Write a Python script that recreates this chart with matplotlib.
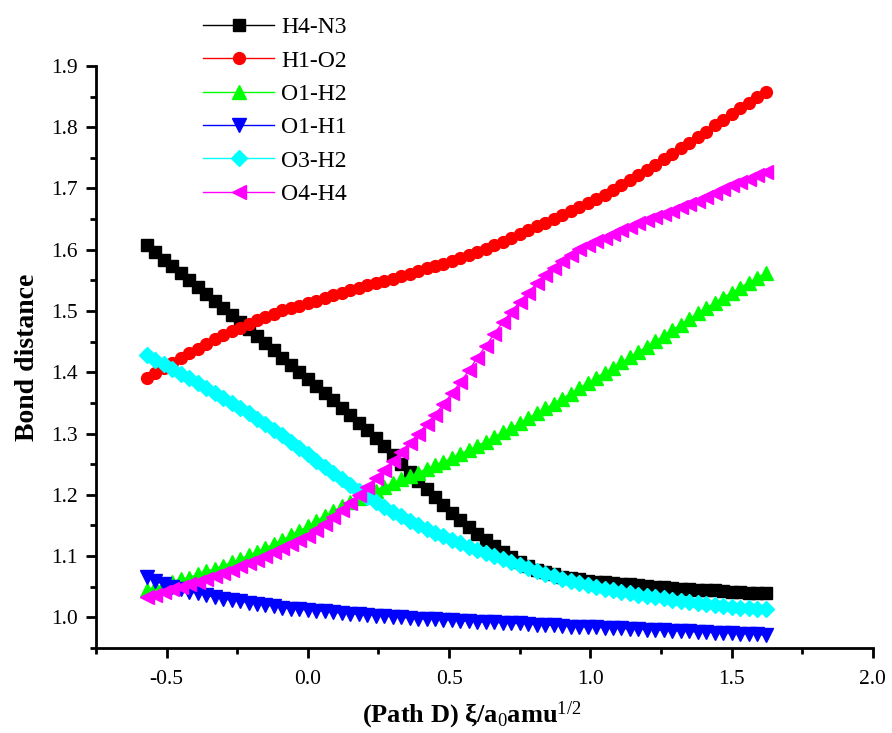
import numpy as np
import matplotlib
matplotlib.use("Agg")
import matplotlib.pyplot as plt
from matplotlib.ticker import MultipleLocator

plt.rcParams['font.family'] = ['Liberation Serif', 'DejaVu Serif']
plt.rcParams['mathtext.fontset'] = 'custom'
plt.rcParams['mathtext.rm'] = 'Liberation Serif'
plt.rcParams['mathtext.default'] = 'regular'

# reaction coordinate along path D
xi = [-0.57, -0.54, -0.51, -0.48, -0.45, -0.42, -0.39, -0.36, -0.33, -0.30,
      -0.27, -0.24, -0.21, -0.18, -0.15, -0.12, -0.09, -0.06, -0.03, 0.00,
      0.03, 0.06, 0.09, 0.12, 0.15, 0.18, 0.21, 0.24, 0.27, 0.30,
      0.33, 0.36, 0.39, 0.42, 0.45, 0.48, 0.51, 0.54, 0.57, 0.60,
      0.63, 0.66, 0.69, 0.72, 0.75, 0.78, 0.81, 0.84, 0.87, 0.90,
      0.93, 0.96, 0.99, 1.02, 1.05, 1.08, 1.11, 1.14, 1.17, 1.20,
      1.23, 1.26, 1.29, 1.32, 1.35, 1.38, 1.41, 1.44, 1.47, 1.50,
      1.53, 1.56, 1.59, 1.62]

h4_n3 = [1.607, 1.596, 1.584, 1.573, 1.562, 1.550, 1.539, 1.528, 1.516, 1.505,
         1.494, 1.482, 1.471, 1.459, 1.448, 1.436, 1.424, 1.412, 1.401, 1.389,
         1.377, 1.366, 1.354, 1.342, 1.330, 1.318, 1.305, 1.292, 1.279, 1.265,
         1.251, 1.237, 1.223, 1.209, 1.196, 1.183, 1.170, 1.159, 1.147, 1.136,
         1.126, 1.117, 1.107, 1.099, 1.091, 1.084, 1.078, 1.074, 1.070, 1.066,
         1.064, 1.062, 1.060, 1.058, 1.057, 1.056, 1.055, 1.054, 1.052, 1.051,
         1.050, 1.049, 1.048, 1.047, 1.046, 1.045, 1.045, 1.044, 1.043, 1.042,
         1.041, 1.040, 1.040, 1.039]

h1_o2 = [1.391, 1.399, 1.407, 1.415, 1.423, 1.431, 1.438, 1.446, 1.454, 1.461,
         1.467, 1.473, 1.479, 1.485, 1.490, 1.495, 1.501, 1.505, 1.509, 1.513,
         1.517, 1.521, 1.526, 1.530, 1.534, 1.538, 1.542, 1.546, 1.549, 1.553,
         1.557, 1.561, 1.566, 1.570, 1.574, 1.577, 1.581, 1.586, 1.591, 1.596,
         1.602, 1.607, 1.613, 1.619, 1.625, 1.632, 1.638, 1.644, 1.650, 1.656,
         1.663, 1.669, 1.676, 1.683, 1.690, 1.698, 1.706, 1.714, 1.722, 1.730,
         1.739, 1.748, 1.757, 1.766, 1.775, 1.784, 1.793, 1.803, 1.812, 1.822,
         1.831, 1.840, 1.849, 1.858]

o1_h2 = [1.045, 1.049, 1.053, 1.058, 1.062, 1.065, 1.070, 1.075, 1.079, 1.084,
         1.090, 1.095, 1.101, 1.107, 1.113, 1.120, 1.126, 1.134, 1.141, 1.149,
         1.157, 1.165, 1.173, 1.181, 1.188, 1.195, 1.201, 1.207, 1.213, 1.219,
         1.225, 1.230, 1.236, 1.242, 1.248, 1.254, 1.260, 1.267, 1.273, 1.280,
         1.287, 1.294, 1.302, 1.309, 1.317, 1.325, 1.333, 1.341, 1.349, 1.357,
         1.365, 1.374, 1.382, 1.391, 1.399, 1.407, 1.416, 1.425, 1.433, 1.442,
         1.451, 1.460, 1.469, 1.478, 1.487, 1.496, 1.505, 1.513, 1.522, 1.530,
         1.538, 1.546, 1.554, 1.562]

o1_h1 = [1.066, 1.059, 1.054, 1.050, 1.046, 1.042, 1.039, 1.036, 1.033, 1.030,
         1.028, 1.026, 1.024, 1.022, 1.020, 1.018, 1.016, 1.014, 1.013, 1.012,
         1.011, 1.010, 1.008, 1.007, 1.006, 1.005, 1.004, 1.003, 1.002, 1.001,
         1.000, 0.999, 0.998, 0.997, 0.997, 0.996, 0.995, 0.994, 0.994, 0.993,
         0.992, 0.992, 0.991, 0.990, 0.990, 0.989, 0.988, 0.987, 0.987, 0.986,
         0.985, 0.985, 0.984, 0.984, 0.983, 0.982, 0.982, 0.981, 0.981, 0.980,
         0.979, 0.979, 0.978, 0.978, 0.977, 0.976, 0.976, 0.975, 0.975, 0.974,
         0.973, 0.973, 0.972, 0.971]

o3_h2 = [1.428, 1.420, 1.413, 1.405, 1.398, 1.390, 1.382, 1.374, 1.366, 1.358,
         1.350, 1.341, 1.333, 1.324, 1.315, 1.306, 1.297, 1.287, 1.276, 1.266,
         1.256, 1.246, 1.235, 1.226, 1.216, 1.206, 1.197, 1.189, 1.180, 1.172,
         1.165, 1.158, 1.150, 1.144, 1.138, 1.132, 1.126, 1.121, 1.115, 1.110,
         1.105, 1.100, 1.095, 1.090, 1.085, 1.080, 1.076, 1.071, 1.067, 1.063,
         1.059, 1.056, 1.052, 1.049, 1.046, 1.044, 1.041, 1.039, 1.037, 1.035,
         1.033, 1.031, 1.029, 1.027, 1.025, 1.023, 1.022, 1.020, 1.019, 1.017,
         1.016, 1.015, 1.014, 1.013]

o4_h4 = [1.033, 1.037, 1.041, 1.046, 1.050, 1.054, 1.058, 1.063, 1.067, 1.072,
         1.077, 1.083, 1.088, 1.094, 1.100, 1.107, 1.113, 1.120, 1.126, 1.133,
         1.142, 1.153, 1.164, 1.175, 1.187, 1.200, 1.213, 1.227, 1.241, 1.255,
         1.270, 1.284, 1.299, 1.315, 1.331, 1.348, 1.366, 1.384, 1.403, 1.424,
         1.443, 1.463, 1.482, 1.499, 1.515, 1.530, 1.545, 1.559, 1.571, 1.582,
         1.592, 1.601, 1.608, 1.614, 1.620, 1.626, 1.632, 1.637, 1.643, 1.648,
         1.653, 1.658, 1.663, 1.669, 1.674, 1.680, 1.686, 1.692, 1.699, 1.705,
         1.711, 1.716, 1.722, 1.727]

bond_labels = ['H4-N3', 'H1-O2', 'O1-H2', 'O1-H1', 'O3-H2', 'O4-H4']
bond_data = [h4_n3, h1_o2, o1_h2, o1_h1, o3_h2, o4_h4]
colors = ['#000000', '#ff0000', '#00ff00', '#0000ff', '#00ffff', '#ff00ff']
markers = ['s', 'o', '^', 'v', 'D', '<']
msizes = [8.5, 8.5, 10, 10, 8.5, 10]

fig = plt.figure(figsize=(8.92, 7.33), dpi=100)
ax = fig.add_axes([0.1076, 0.116, 0.871, 0.794])

for yv, lab, c, m, ms in zip(bond_data, bond_labels, colors, markers, msizes):
    ax.plot(xi, yv, '-', color=c, lw=1, marker=m, ms=ms, mec=c, mfc=c, label=lab)

ax.set_xlim(-0.75, 2.0)
ax.set_ylim(0.95, 1.9)
ax.xaxis.set_minor_locator(MultipleLocator(0.25))
ax.yaxis.set_minor_locator(MultipleLocator(0.05))
ax.set_xticks([-0.5, 0.0, 0.5, 1.0, 1.5, 2.0])
ax.set_yticks([1.0, 1.1, 1.2, 1.3, 1.4, 1.5, 1.6, 1.7, 1.8, 1.9])
ax.xaxis.set_major_formatter(plt.FormatStrFormatter('%.1f'))
ax.yaxis.set_major_formatter(plt.FormatStrFormatter('%.1f'))

ax.spines['top'].set_visible(False)
ax.spines['right'].set_visible(False)
for s in ['left', 'bottom']:
    ax.spines[s].set_linewidth(2)
ax.tick_params(which='major', direction='out', length=7, width=2, labelsize=15.5)
ax.tick_params(axis='x', which='major', pad=9)
ax.tick_params(axis='y', which='major', pad=6)
ax.tick_params(which='minor', direction='out', length=4, width=2)

ax.set_ylabel('Bond distance', fontsize=20, fontweight='bold')
ax.yaxis.set_label_coords(-0.072, 0.5)
ax.set_xlabel(r'(Path D) ξ/a$_\mathrm{0}$amu$^\mathrm{1/2}$', fontsize=19,
              fontweight='bold')
ax.xaxis.set_label_coords(0.483, -0.088)

fig.legend(loc='upper left', bbox_to_anchor=(0.204, 1.006), frameon=False,
           fontsize=17, handlelength=3.0, handletextpad=0.3, labelspacing=0.5,
           markerscale=1.0)

plt.savefig('out.png', dpi=100)
plt.close()
